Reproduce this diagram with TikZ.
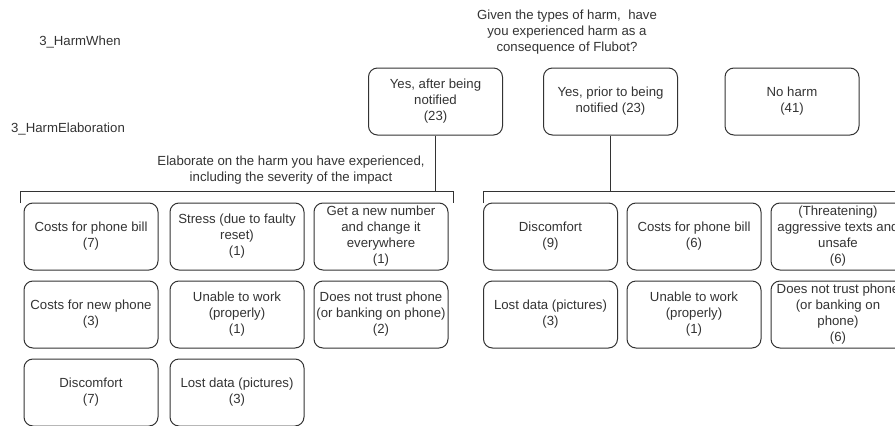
\documentclass[tikz,border=0pt]{standalone}
\usepackage{fontspec}
\setmainfont{Liberation Sans}
\definecolor{ink}{HTML}{333333}
\begin{document}
\begin{tikzpicture}[x=1pt,y=-1pt,
  every node/.style={font=\fontsize{13.2}{16}\selectfont, text=ink},
  box/.style={draw=ink, line width=1pt, rounded corners=9pt, minimum width=134pt, minimum height=67pt, inner sep=1pt, align=center},
  plain/.style={align=center, inner sep=0pt},
  wire/.style={draw=ink, line width=1pt}]
\useasboundingbox (0,0) rectangle (895,426);
% titles
\node[plain] (hw) at (80,42) {3\_HarmWhen};
\node[plain] (he) at (68,129) {3\_HarmElaboration};
\node[plain] (q) at (567,32) {Given the types of harm,\ \ have\\you experienced harm as a\\consequence of Flubot?};
% top answers
\node[box] (yes1) at (435.5,101.5) {Yes, after being\\notified\\(23)};
\node[box] (yes2) at (610.5,101.5) {Yes, prior to being\\notified (23)};
\node[box] (noh) at (792,101.5) {No harm\\(41)};
\node[plain] (el) at (291,170) {Elaborate on the harm you have experienced,\\including the severity of the impact};
% left grid
\node[box] (a1) at (91,236.5) {Costs for phone bill\\(7)};
\node[box] (a2) at (237,236.5) {Stress (due to faulty\\reset)\\(1)};
\node[box] (a3) at (381,236.5) {Get a new number\\and change it\\everywhere\\(1)};
\node[box] (a4) at (91,314.5) {Costs for new phone\\(3)};
\node[box] (a5) at (237,314.5) {Unable to work\\(properly)\\(1)};
\node[box] (a6) at (381,314.5) {Does not trust phone\\(or banking on phone)\\(2)};
\node[box] (a7) at (91,392.5) {Discomfort\\(7)};
\node[box] (a8) at (237,392.5) {Lost data (pictures)\\(3)};
% right grid
\node[box] (b1) at (550.5,236.5) {Discomfort\\(9)};
\node[box] (b2) at (694,236.5) {Costs for phone bill\\(6)};
\node[box] (b3) at (838,236.5) {(Threatening)\\aggressive texts and\\unsafe\\(6)};
\node[box] (b4) at (550.5,314.5) {Lost data (pictures)\\(3)};
\node[box] (b5) at (694,314.5) {Unable to work\\(properly)\\(1)};
\node[box] (b6) at (838,314.5) {Does not trust phone\\(or banking on\\phone)\\(6)};
% brackets
\coordinate (lt) at (0,191);
\coordinate (la) at (20,203);
\coordinate (lb) at (453,203);
\coordinate (ra) at (483,203);
\coordinate (rb) at (905,191);
\draw[wire] (la) -- (la |- lt) -- (lb |- lt) -- (lb);
\draw[wire] (yes1.south) -- (yes1.south |- lt);
\draw[wire] (ra) -- (ra |- lt) -- (rb);
\draw[wire] (yes2.south) -- (yes2.south |- lt);
\end{tikzpicture}
\end{document}
